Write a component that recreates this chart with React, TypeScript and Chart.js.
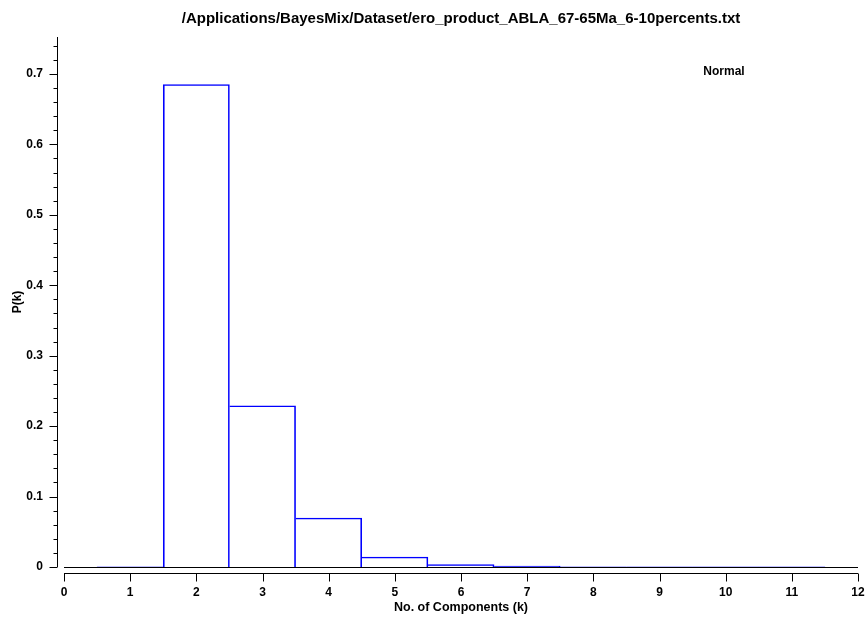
import React, { useEffect, useRef } from 'react';
import { Chart, registerables } from 'chart.js';

Chart.register(...registerables);

const TITLE = '/Applications/BayesMix/Dataset/ero_product_ABLA_67-65Ma_6-10percents.txt';
const LEGEND_LABEL = 'Normal';
const X_LABEL = 'No. of Components (k)';
const Y_LABEL = 'P(k)';

const components = [1, 2, 3, 4, 5, 6, 7, 8, 9, 10, 11];
const probabilities = [0.0002, 0.685, 0.229, 0.0696, 0.0142, 0.0035, 0.0013, 0.0004, 0.0002, 0.0001, 0.0001];

const X_MIN = 0;
const X_MAX = 12;
const Y_MIN = 0;
const Y_MAX = 0.7525;

const FONT = '"Liberation Sans", Arial, Helvetica, sans-serif';

const isMajor = (v: number) => Math.abs(v * 10 - Math.round(v * 10)) < 1e-6;

const axesPlugin = {
  id: 'offsetAxes',
  beforeDatasetsDraw(chart: any) {
    const { ctx, scales } = chart;
    const x = scales.x;
    const y = scales.y;
    ctx.save();
    ctx.strokeStyle = '#000';
    ctx.lineWidth = 1;
    const y0 = Math.round(y.getPixelForValue(0)) + 0.5;
    ctx.beginPath();
    ctx.moveTo(x.getPixelForValue(X_MIN), y0);
    ctx.lineTo(x.getPixelForValue(X_MAX), y0);
    ctx.stroke();
    ctx.restore();
  },
  afterDraw(chart: any) {
    const { ctx, chartArea, scales } = chart;
    const x = scales.x;
    const y = scales.y;
    ctx.save();
    ctx.strokeStyle = '#000';
    ctx.lineWidth = 1;

    // y axis (offset to the left)
    const ax = Math.round(chartArea.left - 7) + 0.5;
    ctx.beginPath();
    ctx.moveTo(ax, y.getPixelForValue(Y_MIN));
    ctx.lineTo(ax, chartArea.top);
    ctx.stroke();
    y.ticks.forEach((t: any) => {
      const p = Math.round(y.getPixelForValue(t.value)) + 0.5;
      const len = isMajor(t.value) ? 8 : 4;
      ctx.beginPath();
      ctx.moveTo(ax - len, p);
      ctx.lineTo(ax, p);
      ctx.stroke();
    });

    // x axis (offset downward)
    const ay = Math.round(chartArea.bottom + 6) + 0.5;
    ctx.beginPath();
    ctx.moveTo(x.getPixelForValue(X_MIN), ay);
    ctx.lineTo(x.getPixelForValue(X_MAX), ay);
    ctx.stroke();
    x.ticks.forEach((t: any) => {
      const p = Math.round(x.getPixelForValue(t.value)) + 0.5;
      ctx.beginPath();
      ctx.moveTo(p, ay);
      ctx.lineTo(p, ay + 8);
      ctx.stroke();
    });

    // series label
    ctx.fillStyle = '#000';
    ctx.font = `bold 12px ${FONT}`;
    ctx.textAlign = 'center';
    ctx.textBaseline = 'middle';
    ctx.fillText(LEGEND_LABEL, chartArea.right - 134, chartArea.top + 35);
    ctx.restore();
  },
};

export default function App() {
  const canvasRef = useRef<HTMLCanvasElement | null>(null);

  useEffect(() => {
    if (!canvasRef.current) return;
    const data = components.map((k, i) => ({ x: k, y: probabilities[i] }));
    const chart = new Chart(canvasRef.current, {
      type: 'bar',
      data: {
        datasets: [
          {
            label: LEGEND_LABEL,
            data,
            backgroundColor: 'rgba(0,0,0,0)',
            borderColor: '#0000ff',
            borderWidth: (ctx: any) => {
              const i = ctx.dataIndex;
              const prev = i > 0 ? probabilities[i - 1] : 0;
              return { top: 1, right: 1, bottom: 0, left: prev < probabilities[i] ? 1 : 0 };
            },
            borderSkipped: false,
            barPercentage: 1,
            categoryPercentage: 1,
          } as any,
        ],
      },
      options: {
        animation: false,
        responsive: true,
        maintainAspectRatio: false,
        layout: { padding: { left: 0, right: 7, top: 0, bottom: 0 } },
        plugins: {
          legend: { display: false },
          tooltip: { enabled: false },
          title: {
            display: true,
            fullSize: false,
            text: TITLE,
            color: '#000',
            font: { family: FONT, size: 15, weight: 'bold' },
            padding: { top: 10, bottom: 9 },
          },
        },
        scales: {
          x: {
            type: 'linear',
            min: X_MIN,
            max: X_MAX,
            offset: false,
            grid: { display: false, drawTicks: false, offset: false },
            border: { display: false },
            ticks: {
              stepSize: 1,
              padding: 18,
              color: '#000',
              font: { family: FONT, size: 12, weight: 'bold' },
              autoSkip: false,
              maxRotation: 0,
            },
            title: {
              display: true,
              text: X_LABEL,
              color: '#000',
              font: { family: FONT, size: 12.5, weight: 'bold' },
              padding: { top: 0, bottom: 2 },
            },
            afterFit: (s: any) => {
              s.height = 50;
              s.paddingLeft = 0;
              s.paddingRight = 0;
            },
          },
          y: {
            type: 'linear',
            min: Y_MIN,
            max: Y_MAX,
            grid: { display: false, drawTicks: false },
            border: { display: false },
            ticks: {
              stepSize: 0.02,
              includeBounds: false,
              autoSkip: false,
              padding: 21,
              color: '#000',
              font: { family: FONT, size: 12, weight: 'bold' },
              callback: (v: any) => {
                const n = Number(v);
                if (!isMajor(n)) return '';
                return Math.abs(n) < 1e-9 ? '0' : n.toFixed(1);
              },
            },
            title: {
              display: true,
              text: Y_LABEL,
              color: '#000',
              font: { family: FONT, size: 12, weight: 'bold' },
              padding: { top: 10, bottom: 0 },
            },
            afterFit: (s: any) => {
              s.width = 64;
              s.paddingTop = 0;
              s.paddingBottom = 0;
            },
          },
        },
      } as any,
      plugins: [axesPlugin],
    });
    return () => chart.destroy();
  }, []);

  return (
    <div style={{ position: 'fixed', left: 0, top: 0, width: 865, height: 617, background: '#fff' }}>
      <canvas ref={canvasRef} />
    </div>
  );
}
